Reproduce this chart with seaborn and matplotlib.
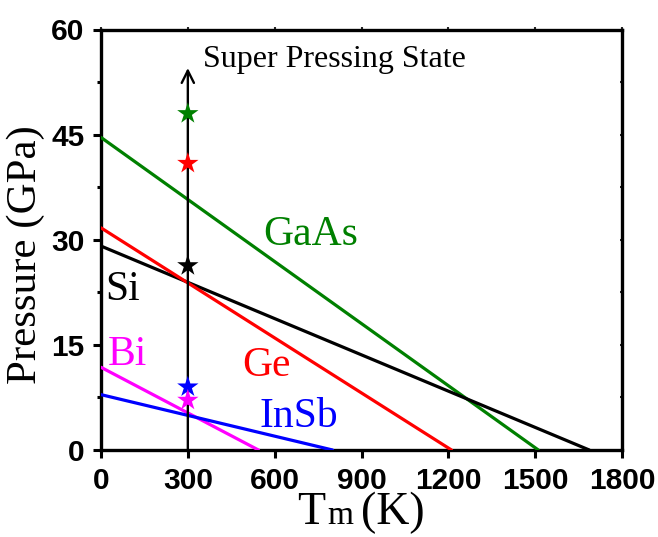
import numpy as np
import pandas as pd
import matplotlib
matplotlib.use("Agg")
import matplotlib.pyplot as plt
import seaborn as sns

# ---- data ----
materials = ["GaAs", "Si", "Ge", "Bi", "InSb"]
p_at_zero = [44.6, 29.1, 31.7, 11.8, 7.9]        # GPa at T = 0 K
melt_temp = [1511, 1687, 1211, 544, 800]          # K where P = 0
star_order = ["GaAs", "Ge", "Si", "InSb", "Bi"]
star_temp = [300, 300, 300, 300, 300]
star_press = [48.0, 40.9, 26.3, 9.0, 7.1]
x_ticks = [0, 300, 600, 900, 1200, 1500, 1800]
y_ticks = [0, 15, 30, 45, 60]
arrow_top = 54.5

colors = {"GaAs": "#008000", "Si": "#000000", "Ge": "#ff0000",
          "Bi": "#ff00ff", "InSb": "#0000ff"}

rows = []
for m, p0, tm in zip(materials, p_at_zero, melt_temp):
    rows.append({"material": m, "T": 0, "P": p0})
    rows.append({"material": m, "T": tm, "P": 0})
lines_df = pd.DataFrame(rows)
stars_df = pd.DataFrame({"material": star_order, "T": star_temp, "P": star_press})

sns.set_theme(style="ticks")
plt.rcParams["font.family"] = ["Liberation Serif", "DejaVu Serif"]

fig = plt.figure(figsize=(6.58, 5.37), dpi=100)
ax = fig.add_axes([101 / 658, 1 - 450 / 537, 521 / 658, 420.5 / 537])

sns.lineplot(data=lines_df, x="T", y="P", hue="material", palette=colors,
             units="material", estimator=None, sort=False, legend=False,
             linewidth=2.3, ax=ax, zorder=3)

# vertical arrow at 300 K
ax.annotate("", xy=(300, arrow_top), xytext=(300, 0),
            arrowprops=dict(arrowstyle="->", color="black", lw=1.7,
                            mutation_scale=22, shrinkA=0, shrinkB=0),
            zorder=4)

sns.scatterplot(data=stars_df, x="T", y="P", hue="material", palette=colors,
                marker="*", s=260, linewidth=0, legend=False, ax=ax, zorder=5)

ax.set_xlim(0, 1800)
ax.set_ylim(0, 60)
ax.set_xticks(x_ticks)
ax.set_yticks(y_ticks)
ax.set_yticks(np.arange(7.5, 60, 15), minor=True)

for s in ax.spines.values():
    s.set_linewidth(2.4)
    s.set_color("black")

ax.tick_params(axis="both", which="major", direction="out", length=6,
               width=2.2, color="black", pad=6)
ax.tick_params(axis="y", which="minor", direction="out", length=3,
               width=2.2, color="black")
for lab in ax.get_xticklabels() + ax.get_yticklabels():
    lab.set_fontfamily("Liberation Sans")
    lab.set_fontweight("bold")
    lab.set_fontsize(21.5)
    lab.set_color("black")

# tiny ticks on top / right
top = ax.secondary_xaxis("top")
top.set_xticks(x_ticks)
top.tick_params(direction="inout", length=3, width=1.5, labeltop=False)
top.spines["top"].set_visible(False)
right = ax.secondary_yaxis("right")
right.set_yticks(np.arange(0, 60.1, 7.5))
right.tick_params(direction="inout", length=3, width=1.5, labelright=False)
right.spines["right"].set_visible(False)

ax.set_xlabel("")
ax.set_ylabel("Pressure (GPa)", fontsize=31, color="black")
ax.yaxis.set_label_coords(-0.108, 0.464)

# text labels
ax.text(352, 54.6, "Super Pressing State", fontsize=23, va="baseline",
        ha="left", color="black")
label_pos = {"GaAs": (560, 29.3), "Si": (14, 21.4), "Bi": (24, 12.1),
             "Ge": (487, 10.5), "InSb": (549, 3.3)}
for m, (x, y) in label_pos.items():
    ax.text(x, y, m, color=colors[m], fontsize=30, va="baseline", ha="left")

# x label "Tm (K)" with smaller m
fig.canvas.draw()
r = fig.canvas.get_renderer()
base_y = 1 - 524 / 537
t1 = fig.text(297 / 658, base_y, "T", fontsize=33, va="baseline", ha="left",
              color="black")
e1 = t1.get_window_extent(r)
t2 = fig.text(e1.x1 / fig.bbox.width + 0.003, base_y, "m", fontsize=24,
              va="baseline", ha="left", color="black")
e2 = t2.get_window_extent(r)
t3 = fig.text(e2.x1 / fig.bbox.width + 0.012, base_y, "(K)", fontsize=33,
              va="baseline", ha="left", color="black")

fig.savefig("out.png", dpi=100)
